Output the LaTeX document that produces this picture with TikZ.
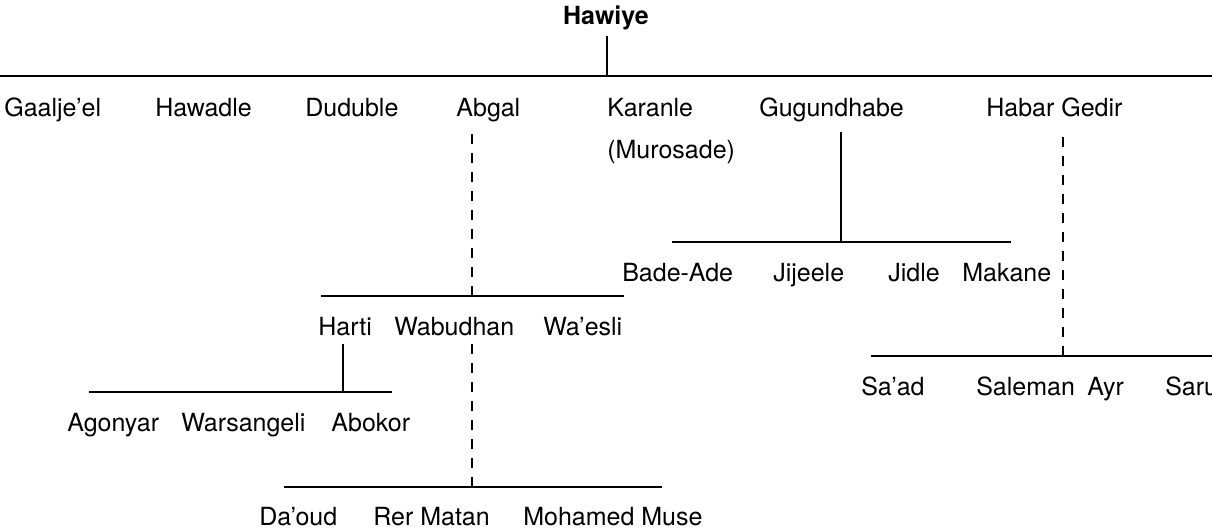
\documentclass[tikz,border=0pt]{standalone}
\usepackage{fontspec}
\setmainfont{TeX Gyre Heros}
\usetikzlibrary{positioning}

\begin{document}
\begin{tikzpicture}[x=1pt, y=-1pt, line width=2.6pt,
      clan/.style={anchor=base west, inner sep=0pt, font=\fontsize{25}{30}\selectfont},
      root/.style={inner sep=0pt, font=\bfseries\fontsize{25}{30}\selectfont},
      dashlink/.style={dash pattern=on 10pt off 9pt}]
      \useasboundingbox (0,0) rectangle (1212,529);
      % Hawiye, top bar
      \node[root] (hawiye) at (606,18) {Hawiye};
      \coordinate (hawiye_s) at (607,36);
      \coordinate (top_j) at (607,76);
      \coordinate (top_l) at (0,76);
      \coordinate (top_r) at (1212,76);
      \draw (hawiye_s) -- (top_j);
      \draw (top_l) -- (top_r);
      % first row
      \node[clan] (gaaljeel) at (3,117) {Gaalje’el};
      \node[clan] (hawadle) at (154,117) {Hawadle};
      \node[clan] (duduble) at (304,117) {Duduble};
      \node[clan] (abgal) at (455,117) {Abgal};
      \node[clan] (karanle) at (606,117) {Karanle};
      \node[clan] (murosade) at (606,159) {(Murosade)};
      \node[clan] (gugundhabe) at (758,117) {Gugundhabe};
      \node[clan] (habar) at (985,117) {Habar Gedir};
      % Gugundhabe, sons
      \coordinate (gug_s) at (841,132);
      \coordinate (gug_j) at (841,242);
      \coordinate (gug_l) at (672,242);
      \coordinate (gug_r) at (1011,242);
      \draw (gug_s) -- (gug_j);
      \draw (gug_l) -- (gug_r);
      \node[clan] (badeade) at (621,281) {Bade-Ade};
      \node[clan] (jijeele) at (772,281) {Jijeele};
      \node[clan] (jidle) at (887,281) {Jidle};
      \node[clan] (makane) at (961,281) {Makane};
      % Habar Gedir, sons
      \coordinate (hab_s) at (1063,134);
      \coordinate (hab_j) at (1063,356);
      \coordinate (hab_l) at (871,356);
      \coordinate (hab_r) at (1212,356);
      \draw[dashlink] (hab_j) -- (hab_s);
      \draw (hab_l) -- (hab_r);
      \node[clan] (saad) at (860,395) {Sa’ad};
      \node[clan] (saleman) at (975,395) {Saleman};
      \node[clan] (ayr) at (1086,395) {Ayr};
      \node[clan] (saru) at (1164,395) {Saru};
      % Abgal, sons
      \coordinate (abg_s) at (472,132);
      \coordinate (abg_j) at (472,296);
      \coordinate (abg_l) at (321,296);
      \coordinate (abg_r) at (624,296);
      \draw[dashlink] (abg_j) -- (abg_s);
      \draw (abg_l) -- (abg_r);
      \node[clan] (harti) at (317,335) {Harti};
      \node[clan] (wabudhan) at (393,335) {Wabudhan};
      \node[clan] (waesli) at (542,335) {Wa’esli};
      % Harti, sons
      \coordinate (har_s) at (343,344);
      \coordinate (har_j) at (343,392);
      \coordinate (har_l) at (89,392);
      \coordinate (har_r) at (392,392);
      \draw (har_s) -- (har_j);
      \draw (har_l) -- (har_r);
      \node[clan] (agonyar) at (66,431) {Agonyar};
      \node[clan] (warsangeli) at (180,431) {Warsangeli};
      \node[clan] (abokor) at (330,431) {Abokor};
      % Wabudhan, sons
      \coordinate (wab_s) at (472,344);
      \coordinate (wab_j) at (472,487);
      \coordinate (wab_l) at (284,487);
      \coordinate (wab_r) at (662,487);
      \draw[dashlink] (wab_j) -- (wab_s);
      \draw (wab_l) -- (wab_r);
      \node[clan] (daoud) at (258,525) {Da’oud};
      \node[clan] (rermatan) at (372,525) {Rer Matan};
      \node[clan] (mohamed) at (522,525) {Mohamed Muse};
  \end{tikzpicture}
\end{document}
